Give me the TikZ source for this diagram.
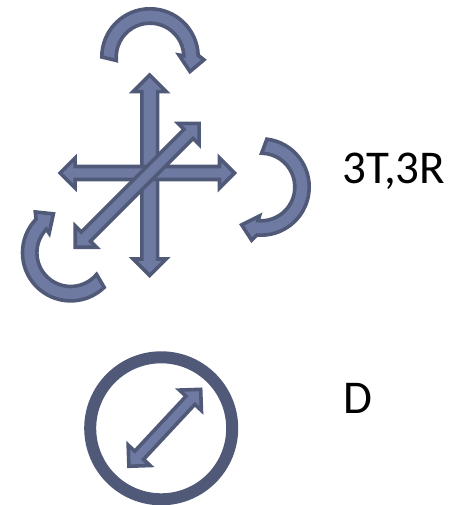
\documentclass[tikz,border=0pt]{standalone}
\usepackage{fontspec}
\setmainfont{Carlito}
\usepackage{tikz}

\definecolor{arrowfill}{HTML}{6E7AA1}
\definecolor{arrowline}{HTML}{505A78}

\tikzset{
    arrowshape/.style={draw=arrowline, fill=arrowfill, line width=3.6pt, miter limit=10},
    caption/.style={font=\fontsize{47}{47}\selectfont, text=black, inner sep=0pt, anchor=base west},
    pics/twoway/.style n args={3}{code={
        \path [arrowshape] (-#1,0) -- (-#1+#3,#3) -- (-#1+#3,#2) -- (#1-#3,#2) -- (#1-#3,#3)
            -- (#1,0) -- (#1-#3,-#3) -- (#1-#3,-#2) -- (-#1+#3,-#2) -- (-#1+#3,-#3) -- cycle;
    }},
    pics/turn/.style={code={
        \path [arrowshape] (180:48.2) arc [start angle=180, end angle=2, radius=48.2]
            -- (-3:54) -- (-20:42.5) -- (4:29) -- (2:33.8)
            arc [start angle=2, end angle=186, radius=33.8] -- cycle;
    }}
}

\begin{document}
\begin{tikzpicture}[x=1pt, y=1pt]
    \useasboundingbox (0,0) rectangle (458,505);

    % Translations
    \pic [rotate=90] at (149.7,329.7) {twoway={100.2}{7.9}{16.5}};
    \pic at (147.3,332) {twoway={87.2}{6.5}{15}};
    \pic [rotate=45] at (137.2,319.7) {twoway={87.6}{6.5}{15}};

    % Rotations
    \pic [rotate=0] at (150,448) {turn};
    \pic [rotate=-97] at (261,318) {turn};
    \pic [rotate=134] at (70.7,252.3) {turn};

    % Distance
    \node [circle, draw=arrowline, line width=12pt, minimum size=142pt, inner sep=0pt] (ring) at (161.2,76.7) {};
    \pic [rotate=47] at (164.8,77.2) {twoway={52.6}{6}{15}};

    % Labels
    \node [caption] (full) at (342,321.7) {3T,3R};
    \node [caption] (dist) at (343,91) {D};
\end{tikzpicture}
\end{document}
